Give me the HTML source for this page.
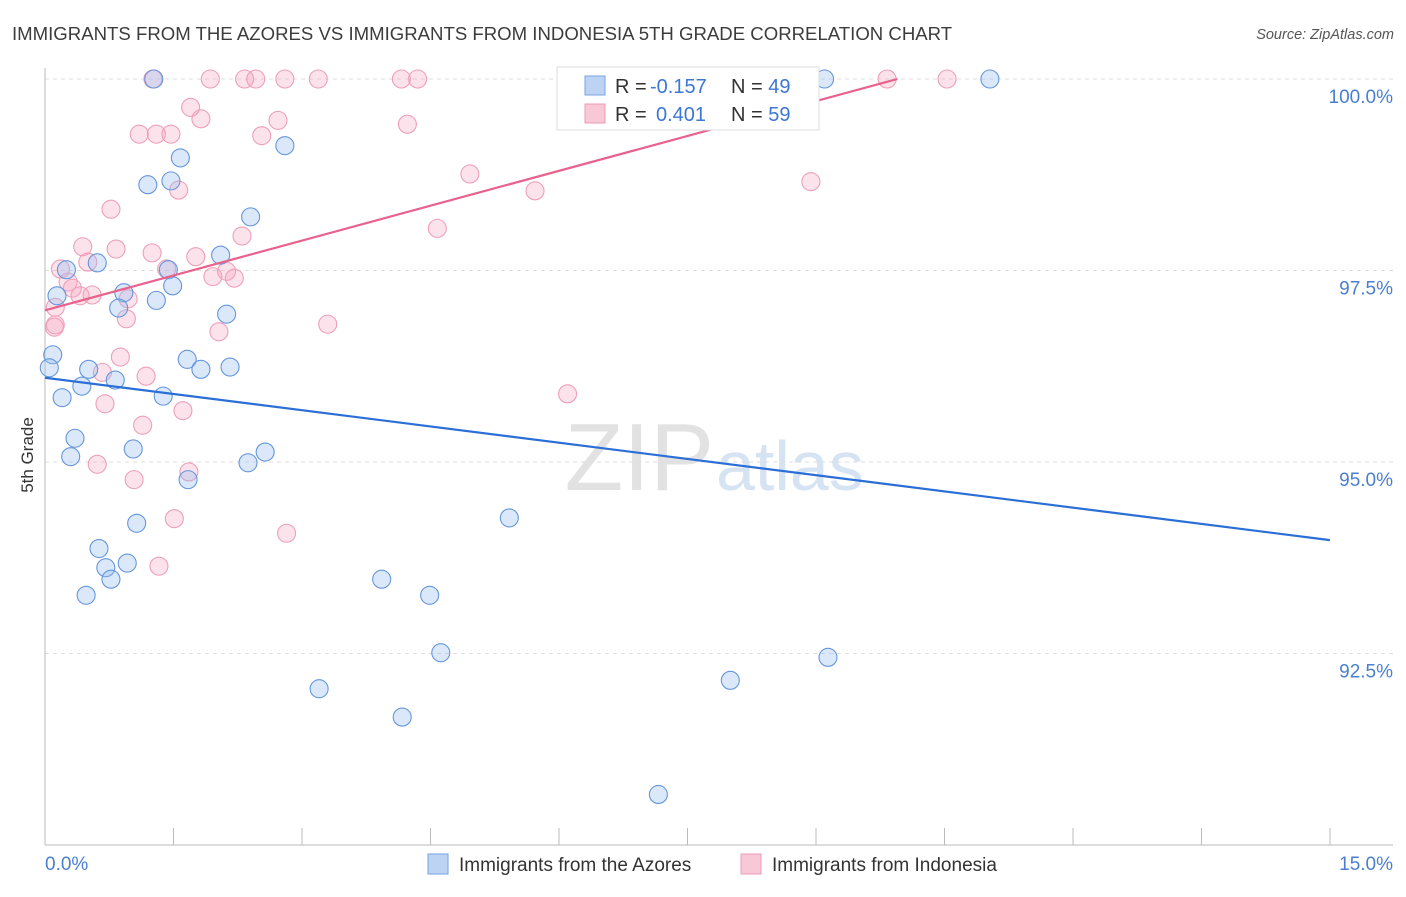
<!DOCTYPE html>
<html><head><meta charset="utf-8"><style>
body{margin:0;background:#fff;font-family:"Liberation Sans",sans-serif}
svg text{font-family:"Liberation Sans",sans-serif}
</style></head><body>
<svg id="c" width="1406" height="892" xmlns="http://www.w3.org/2000/svg">
<text x="12" y="40" font-size="18.6" fill="#3c3c3c">IMMIGRANTS FROM THE AZORES VS IMMIGRANTS FROM INDONESIA 5TH GRADE CORRELATION CHART</text>
<text x="1394" y="39" font-size="14.5" fill="#555" font-style="italic" text-anchor="end">Source: ZipAtlas.com</text>
<text x="33" y="455" font-size="17" fill="#333" text-anchor="middle" transform="rotate(-90 33 455)">5th Grade</text>
<text x="714" y="490" font-size="96" fill="#e2e2e2" text-anchor="end" font-family="Liberation Serif">ZIP</text>
<text x="716" y="490" font-size="70" fill="#d6e3f3">atlas</text>
<g id="grid"></g><g id="pts"></g><g id="lines"></g>
<rect x="557" y="67" width="262" height="63" fill="#fff" stroke="#ddd"/>
<rect x="585" y="76" width="20" height="19" fill="#bcd3f3" stroke="#7aa3e0"/>
<rect x="585" y="104" width="20" height="19" fill="#f8c8d6" stroke="#eb9bb4"/>
<text x="615" y="93" font-size="20" fill="#333">R = <tspan x="650" fill="#3d77d4">-0.157</tspan></text>
<text x="731" y="93" font-size="20" fill="#333">N = <tspan fill="#3d77d4">49</tspan></text>
<text x="615" y="121" font-size="20" fill="#333">R = <tspan x="656" fill="#3d77d4">0.401</tspan></text>
<text x="731" y="121" font-size="20" fill="#333">N = <tspan fill="#3d77d4">59</tspan></text>
<rect x="428" y="854" width="20" height="20" fill="#bcd3f3" stroke="#7aa3e0"/>
<text x="459" y="871" font-size="19" fill="#333">Immigrants from the Azores</text>
<rect x="741" y="854" width="20" height="20" fill="#f8c8d6" stroke="#eb9bb4"/>
<text x="772" y="871" font-size="19" fill="#333">Immigrants from Indonesia</text>
</svg>
<script>
const blueX=[1.27,9.10,11.03,2.80,1.58,1.20,1.47,2.40,2.05,0.61,0.25,1.44,1.49,0.92,0.14,1.30,0.86,2.12,0.09,0.05,0.51,1.66,1.82,2.16,0.82,0.43,0.20,1.38,0.35,1.03,2.57,0.30,2.37,1.67,1.07,5.42,0.63,0.71,0.96,0.77,0.48,3.93,4.49,4.62,9.14,3.20,8.00,4.17,7.16];
const blueY=[100,100,100,99.13,98.97,98.62,98.67,98.20,97.70,97.60,97.51,97.51,97.30,97.21,97.17,97.11,97.01,96.93,96.40,96.23,96.21,96.34,96.21,96.24,96.07,95.99,95.84,95.86,95.31,95.17,95.13,95.07,94.99,94.77,94.20,94.27,93.87,93.62,93.68,93.47,93.26,93.47,93.26,92.51,92.45,92.04,92.15,91.67,90.66];
const pinkX=[1.26,1.93,2.33,2.46,2.80,3.19,4.16,4.35,9.83,10.53,1.70,1.82,1.10,1.30,1.47,2.53,2.72,4.23,4.96,5.72,8.94,1.56,0.77,4.58,2.30,0.44,0.83,1.25,1.76,0.50,0.18,1.42,2.12,2.21,1.96,0.27,0.32,0.41,0.55,0.97,0.12,0.95,0.12,3.30,2.03,0.88,0.67,1.18,0.70,1.61,1.14,0.61,1.68,1.04,1.51,2.82,1.33,6.10,0.11];
const pinkY=[100,100,100,100,100,100,100,100,100,100,99.63,99.48,99.28,99.28,99.28,99.26,99.46,99.41,98.76,98.54,98.66,98.55,98.30,98.05,97.95,97.81,97.78,97.73,97.68,97.61,97.52,97.52,97.49,97.40,97.42,97.35,97.27,97.17,97.18,97.13,97.02,96.87,96.79,96.80,96.70,96.37,96.17,96.12,95.76,95.67,95.48,94.97,94.87,94.77,94.26,94.07,93.64,95.89,96.76];
const blueTrendX=[0,15], blueTrendY=[96.10,93.98];
const pinkTrendX=[0,9.95], pinkTrendY=[96.98,100];
const yTicks=[100,97.5,95,92.5];
const yTickLabels=["100.0%","97.5%","95.0%","92.5%"];
const xEnds=["0.0%","15.0%"];
const NS="http://www.w3.org/2000/svg";
const sx=v=>45+v/15*1285, sy=v=>79+(100-v)/2.5*191.5;
function mk(p,t,a){const e=document.createElementNS(NS,t);for(const k in a)e.setAttribute(k,a[k]);p.appendChild(e);return e;}
const g=document.getElementById('grid'),P=document.getElementById('pts'),L=document.getElementById('lines');
yTicks.forEach((v,i)=>{
 const l=mk(g,'line',{x1:45,x2:1393,y1:sy(v),y2:sy(v),stroke:'#ddd','stroke-dasharray':'4,4'});
 
 
 const t=mk(g,'text',{x:1393,y:sy(v)+24,'font-size':19,fill:'#4a7fd0','text-anchor':'end'});t.textContent=yTickLabels[i];
 
 
});
const ax=mk(g,'line',{x1:45,x2:45,y1:68,y2:845,stroke:'#bbb'});


const bx=mk(g,'line',{x1:45,x2:1393,y1:845,y2:845,stroke:'#bbb'});


for(let k=0;k<=10;k++){const x=sx(k*1.5);const t=mk(g,'line',{x1:x,x2:x,y1:828,y2:845,stroke:'#bbb'});
 
 }
const x0=mk(g,'text',{x:45,y:870,'font-size':19,fill:'#4a7fd0'});x0.textContent=xEnds[0];


const x1=mk(g,'text',{x:1393,y:870,'font-size':19,fill:'#4a7fd0','text-anchor':'end'});x1.textContent=xEnds[1];


pinkX.forEach((v,i)=>{const c=mk(P,'circle',{cx:sx(v),cy:sy(pinkY[i]),r:9,fill:'rgba(244,160,188,0.3)',stroke:'#eda0b8','stroke-width':1.1});
 
 });
blueX.forEach((v,i)=>{const c=mk(P,'circle',{cx:sx(v),cy:sy(blueY[i]),r:9,fill:'rgba(150,188,238,0.35)',stroke:'#6596dc','stroke-width':1.1});
 
 });
const bl=mk(L,'line',{x1:sx(blueTrendX[0]),y1:sy(blueTrendY[0]),x2:sx(blueTrendX[1]),y2:sy(blueTrendY[1]),stroke:'#2b6fd6','stroke-width':2.2});


const pl=mk(L,'line',{x1:sx(pinkTrendX[0]),y1:sy(pinkTrendY[0]),x2:sx(pinkTrendX[1]),y2:sy(pinkTrendY[1]),stroke:'#e8628d','stroke-width':2.2});


</script>
</body></html>
